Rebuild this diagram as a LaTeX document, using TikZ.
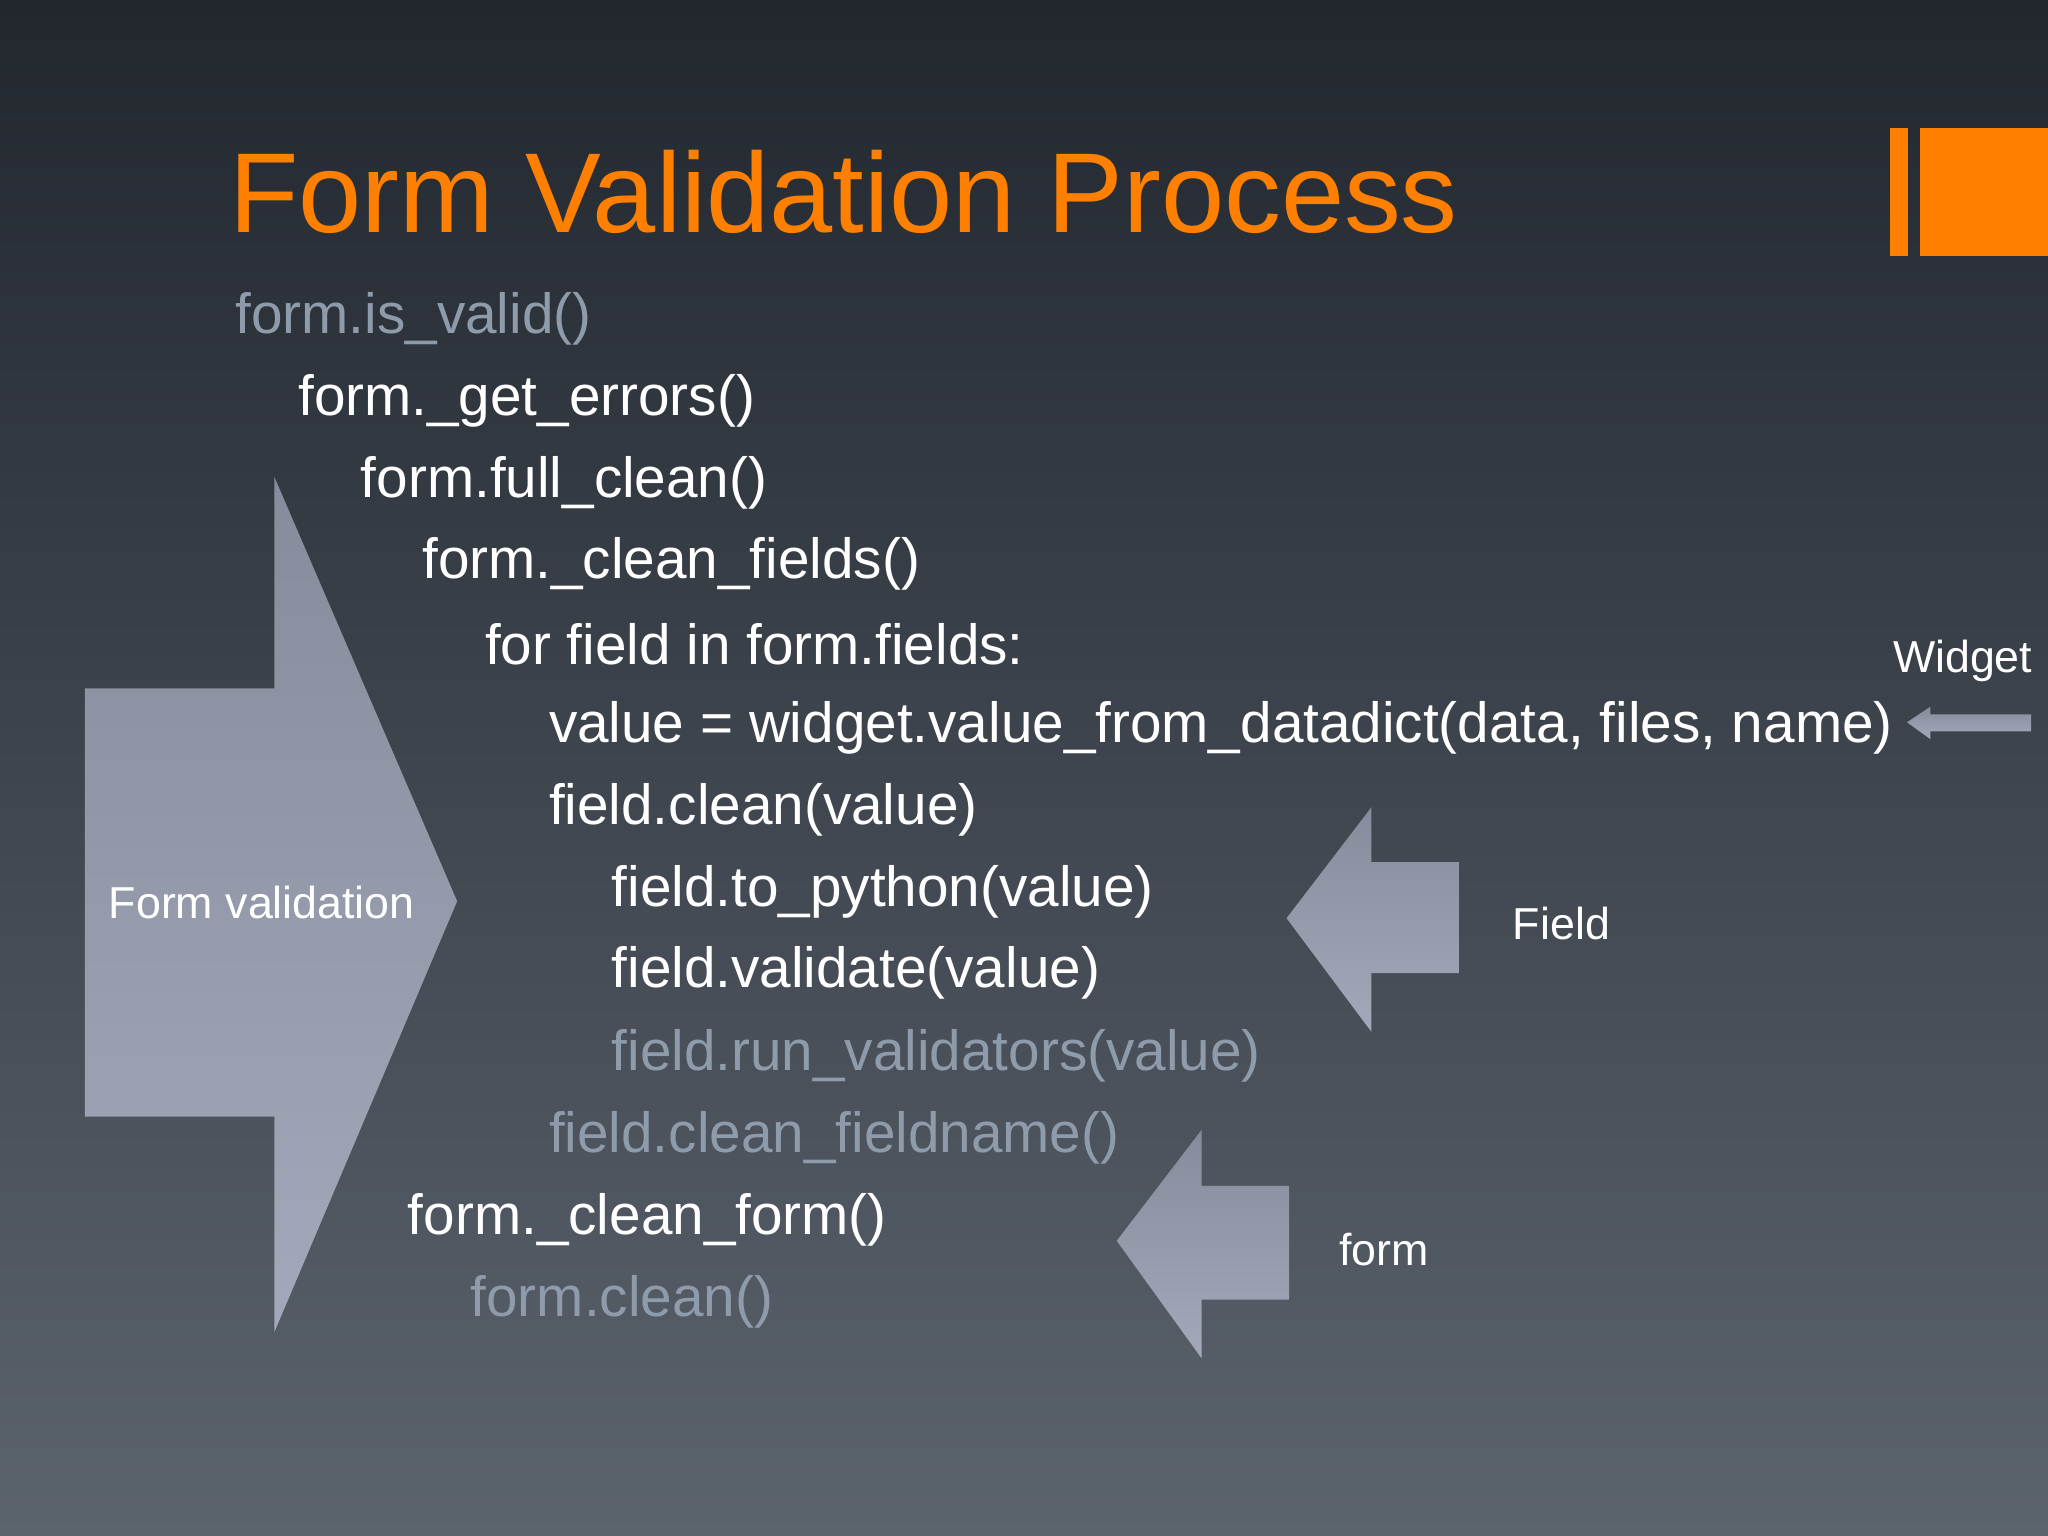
\documentclass[tikz,border=0pt]{standalone}
\usepackage{fontspec}
\setmainfont{Liberation Sans}
\definecolor{bgtop}{HTML}{22272E}
\definecolor{bgbot}{HTML}{5B636D}
\definecolor{orng}{HTML}{FF8000}
\definecolor{dimtxt}{HTML}{8E9BAA}
\definecolor{artop}{HTML}{878C9C}
\definecolor{arbot}{HTML}{A3A9BA}
\tikzset{
 codeline/.style={anchor=west,text=white,font=\fontsize{24.7}{30}\selectfont,inner sep=0pt},
 dimline/.style={codeline,text=dimtxt},
 lbl/.style={anchor=west,text=white,font=\fontsize{19.5}{24}\selectfont,inner sep=0pt},
 arrowshape/.style={top color=artop,bottom color=arbot,draw=none},
}
\begin{document}
\begin{tikzpicture}[x=0.02cm,y=-0.02cm]
\useasboundingbox (0,0) rectangle (1568,1176);
\shade[top color=bgtop,bottom color=bgbot] (0,0) rectangle (1568,1176);
% orange marks
\fill[orng] (1447,98) rectangle (1461,196);
\fill[orng] (1470,98) rectangle (1568,196);
\node[anchor=base west,text=orng,font=\fontsize{49.5}{60}\selectfont,inner sep=0pt] (title) at (175,178) {Form Validation Process};
% big arrow
\shade[arrowshape] (65,527) -- (210,527) -- (210,365) -- (350,690) -- (210,1020) -- (210,855) -- (65,855) -- cycle;
% field arrow
\shade[arrowshape] (985,703) -- (1050,618) -- (1050,660) -- (1117,660) -- (1117,745) -- (1050,745) -- (1050,790) -- cycle;
% form arrow
\shade[arrowshape] (855,950) -- (920,865) -- (920,908) -- (987,908) -- (987,995) -- (920,995) -- (920,1040) -- cycle;
% widget arrow
\shade[arrowshape] (1460,553) -- (1478,541) -- (1478,547) -- (1555,547) -- (1555,560) -- (1478,560) -- (1478,566) -- cycle;
% code
\node[dimline] (l1) at (180,244) {form.is\_valid()};
\node[codeline] (l2) at (228,307) {form.\_get\_errors()};
\node[codeline] (l3) at (276,370) {form.full\_clean()};
\node[codeline] (l4) at (323,432) {form.\_clean\_fields()};
\node[codeline] (l5) at (371,493) {for field in form.fields:};
\node[codeline] (l6) at (420,557) {value = widget.value\_from\_datadict(data, files, name)};
\node[codeline] (l7) at (420,620) {field.clean(value)};
\node[codeline] (l8) at (468,683) {field.to\_python(value)};
\node[codeline] (l9) at (468,745) {field.validate(value)};
\node[dimline] (l10) at (468,808) {field.run\_validators(value)};
\node[dimline] (l11) at (420,871) {field.clean\_fieldname()};
\node[codeline] (l12) at (312,934) {form.\_clean\_form()};
\node[dimline] (l13) at (360,997) {form.clean()};
% labels
\node[lbl] (widget) at (1449,506) {Widget};
\node[lbl] (field) at (1158,707) {Field};
\node[lbl] (form) at (1025,957) {form};
\node[lbl] (fv) at (83,691) {Form validation};
\end{tikzpicture}
\end{document}
